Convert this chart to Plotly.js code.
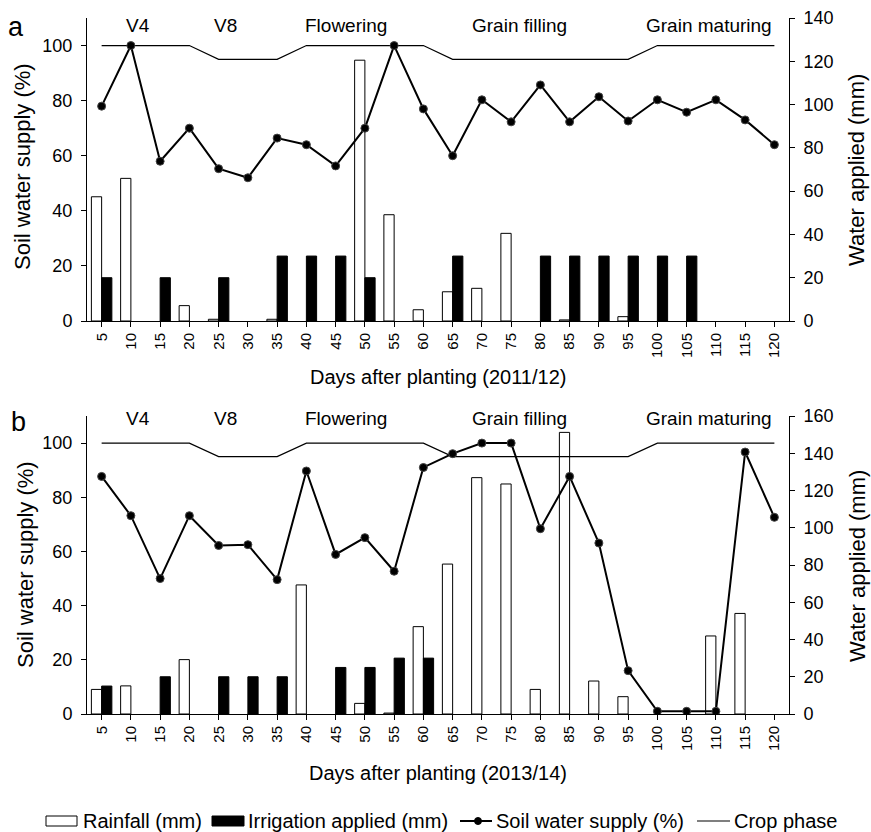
<!DOCTYPE html>
<html>
<head>
<meta charset="utf-8">
<script src="https://cdn.plot.ly/plotly-3.0.1.min.js"></script>
<style>
  html, body { margin: 0; padding: 0; background: #fff; }
  #chart { width: 871px; height: 832px; }
</style>
</head>
<body>
<div id="chart"></div>
<script>
// ---- Data ----
const days = [5,10,15,20,25,30,35,40,45,50,55,60,65,70,75,80,85,90,95,100,105,110,115,120];
const dayLabels = days.map(String);

// Panel a (2011/12)
const rainA = [57.4,65.9,0,7.1,0.8,0,0.8,0,0,120.5,49.1,5.2,13.5,15.1,40.5,0,0.5,0,2,0,0,0,0,0];
const irrA  = [20,0,20,0,20,0,30,30,30,20,0,0,30,0,0,30,30,30,30,30,30,0,0,0];
const soilA = [78,100,58,70,55.3,52,66.4,64,56.3,70,100,77,60,80.3,72.3,85.7,72.3,81.4,72.6,80.3,75.8,80.3,73,64];
const phaseA = [100,100,100,100,95,95,95,100,100,100,100,100,95,95,95,95,95,95,95,100,100,100,100,100];

// Panel b (2013/14)
const rainB = [13.2,15.1,0,29.2,0,0,0,69.3,0,5.7,0.5,46.9,80.5,126.9,123.5,13.2,151.2,17.7,9.3,0,0,41.9,54,0];
const irrB  = [15,0,20,0,20,20,20,0,25,25,30,30,0,0,0,0,0,0,0,0,0,0,0,0];
const soilB = [87.7,73.2,50,73.2,62.2,62.5,49.6,89.7,58.9,65.1,52.7,91,96.1,100,100,68.4,87.7,63.1,16,1,1,1,96.7,72.6];
const phaseB = [100,100,100,100,95,95,95,100,100,100,100,100,95,95,95,95,95,95,95,100,100,100,100,100];

const phaseNames = ["V4","V8","Flowering","Grain filling","Grain maturing"];
const phaseLabelX = [11.2,26.1,46.8,76.4,108.9];

const legendNames = ["Rainfall (mm)","Irrigation applied (mm)","Soil water supply (%)","Crop phase"];

// ---- Geometry helpers ----
const W = 871, H = 832;
const M = {l:87, r:82, t:18, b:118};
const PW = W - M.l - M.r, PH = H - M.t - M.b;
const px = x => (x - M.l) / PW;
const py = y => (H - M.b - y) / PH;

const FONT = "Liberation Sans, Arial, sans-serif";
const noZero = arr => arr.map(v => v === 0 ? null : v);

function panelTraces(rain, irr, soil, phase, xa, yBar, yLine) {
  return [
    {type:'bar', x:days, y:noZero(rain), xaxis:xa, yaxis:yBar, name:legendNames[0],
     marker:{color:'#ffffff', line:{color:'#000', width:1}}, showlegend:false},
    {type:'bar', x:days, y:noZero(irr), xaxis:xa, yaxis:yBar, name:legendNames[1],
     marker:{color:'#000000', line:{color:'#000', width:1}}, showlegend:false},
    {type:'scatter', mode:'lines', x:days, y:phase, xaxis:xa, yaxis:yLine, name:legendNames[3],
     line:{color:'#000', width:1.2}, showlegend:false},
    {type:'scatter', mode:'lines+markers', x:days, y:soil, xaxis:xa, yaxis:yLine, name:legendNames[2],
     line:{color:'#000', width:2}, marker:{color:'#000', size:8, line:{color:'#444', width:1}}, showlegend:false}
  ];
}

const data = [
  ...panelTraces(rainA, irrA, soilA, phaseA, 'x', 'y', 'y2'),
  ...panelTraces(rainB, irrB, soilB, phaseB, 'x2', 'y3', 'y4')
];

const xBase = {
  range:[2.5,122.5], tickmode:'array', tickvals:days, ticktext:dayLabels, tickangle:-90,
  ticks:'outside', ticklen:5, tickcolor:'#000', showline:true, linecolor:'#000', linewidth:1,
  showgrid:false, zeroline:false, tickfont:{family:FONT, size:15, color:'#000'}, fixedrange:true
};
const yBase = {
  ticks:'outside', ticklen:5, tickcolor:'#000', showline:true, linecolor:'#000', linewidth:1,
  showgrid:false, zeroline:false, tickfont:{family:FONT, size:18, color:'#000'}, fixedrange:true,
  ticklabelstandoff:5
};

const domA = [py(321), 1];
const domB = [0, py(416)];

const annotations = [];
annotations.push({xref:'paper', yref:'paper', x:px(16), y:py(27), text:'a', showarrow:false,
  font:{family:FONT, size:27, color:'#000'}, xanchor:'center', yanchor:'middle'});
annotations.push({xref:'paper', yref:'paper', x:px(18), y:py(422), text:'b', showarrow:false,
  font:{family:FONT, size:27, color:'#000'}, xanchor:'center', yanchor:'middle'});
phaseNames.forEach((n,i) => {
  annotations.push({xref:'x', yref:'paper', x:phaseLabelX[i], y:py(25), text:n, showarrow:false,
    font:{family:FONT, size:19, color:'#000'}, xanchor:'center', yanchor:'middle'});
  annotations.push({xref:'x2', yref:'paper', x:phaseLabelX[i], y:py(418), text:n, showarrow:false,
    font:{family:FONT, size:19, color:'#000'}, xanchor:'center', yanchor:'middle'});
});
const titleFont = {family:FONT, size:20, color:'#000'};
annotations.push({xref:'paper', yref:'paper', x:0.5, y:py(377), text:'Days after planting (2011/12)',
  showarrow:false, font:titleFont, xanchor:'center', yanchor:'middle'});
annotations.push({xref:'paper', yref:'paper', x:0.5, y:py(773), text:'Days after planting (2013/14)',
  showarrow:false, font:titleFont, xanchor:'center', yanchor:'middle'});
const yTitleFont = {family:FONT, size:22, color:'#000'};
annotations.push({xref:'paper', yref:'paper', x:px(23), y:py(167), text:'Soil water supply (%)',
  showarrow:false, font:yTitleFont, textangle:-90, xanchor:'center', yanchor:'middle'});
annotations.push({xref:'paper', yref:'paper', x:px(857), y:py(170), text:'Water applied (mm)',
  showarrow:false, font:yTitleFont, textangle:-90, xanchor:'center', yanchor:'middle'});
annotations.push({xref:'paper', yref:'paper', x:px(25), y:py(565), text:'Soil water supply (%)',
  showarrow:false, font:yTitleFont, textangle:-90, xanchor:'center', yanchor:'middle'});
annotations.push({xref:'paper', yref:'paper', x:px(857), y:py(566), text:'Water applied (mm)',
  showarrow:false, font:yTitleFont, textangle:-90, xanchor:'center', yanchor:'middle'});

const legY = 821;
const legFont = {family:FONT, size:20, color:'#000'};
const legTextX = [81, 246, 494, 732];
legendNames.forEach((n,i) => {
  annotations.push({xref:'paper', yref:'paper', x:px(legTextX[i]), y:py(legY), text:n, showarrow:false,
    font:legFont, xanchor:'left', yanchor:'middle'});
});
const shapes = [
  {type:'rect', xref:'paper', yref:'paper', x0:px(46), x1:px(77), y0:py(826), y1:py(816),
   fillcolor:'#fff', line:{color:'#000', width:1}},
  {type:'rect', xref:'paper', yref:'paper', x0:px(212), x1:px(244), y0:py(826), y1:py(816),
   fillcolor:'#000', line:{color:'#000', width:1}},
  {type:'line', xref:'paper', yref:'paper', x0:px(460), x1:px(492), y0:py(legY), y1:py(legY),
   line:{color:'#000', width:2}},
  {type:'circle', xref:'paper', yref:'paper', x0:px(474.5), x1:px(481.5), y0:py(legY+3.5), y1:py(legY-3.5),
   fillcolor:'#000', line:{color:'#000', width:1}},
  {type:'line', xref:'paper', yref:'paper', x0:px(697), x1:px(730), y0:py(legY), y1:py(legY),
   line:{color:'#000', width:1.2}}
];

const layout = {
  width:W, height:H, margin:M, paper_bgcolor:'#fff', plot_bgcolor:'rgba(0,0,0,0)',
  showlegend:false, barmode:'group', bargap:0.3, bargroupgap:0,
  font:{family:FONT, color:'#000'},
  xaxis: Object.assign({}, xBase, {domain:[0,1], anchor:'y'}),
  yaxis: Object.assign({}, yBase, {domain:domA, anchor:'x', side:'right', range:[0,140],
    tickvals:[0,20,40,60,80,100,120,140]}),
  yaxis2: Object.assign({}, yBase, {overlaying:'y', anchor:'x', side:'left', range:[0,110],
    tickvals:[0,20,40,60,80,100]}),
  xaxis2: Object.assign({}, xBase, {domain:[0,1], anchor:'y3'}),
  yaxis3: Object.assign({}, yBase, {domain:domB, anchor:'x2', side:'right', range:[0,160],
    tickvals:[0,20,40,60,80,100,120,140,160]}),
  yaxis4: Object.assign({}, yBase, {overlaying:'y3', anchor:'x2', side:'left', range:[0,110],
    tickvals:[0,20,40,60,80,100]}),
  annotations: annotations,
  shapes: shapes
};

Plotly.newPlot('chart', data, layout, {staticPlot:true, displayModeBar:false});
</script>
</body>
</html>
